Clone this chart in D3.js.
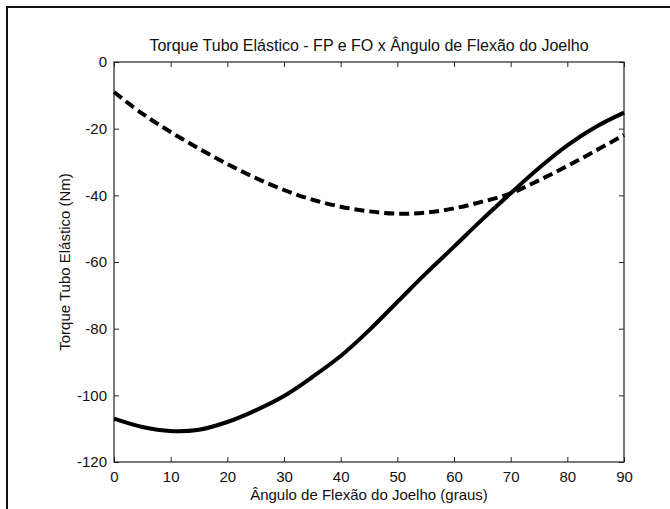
<!DOCTYPE html>
<html>
<head>
<meta charset="utf-8">
<script src="https://cdn.jsdelivr.net/npm/d3@7"></script>
<style>
  body { margin: 0; background: #fff; }
  text { font-family: "Liberation Sans", Arial, sans-serif; fill: #111; }
</style>
</head>
<body>
<div id="vis"></div>
<script>
const WIDTH = 670;
const HEIGHT = 509;

// angulo (graus)
const angulos = [0, 5, 10, 15, 20, 25, 30, 35, 40, 45, 50, 55, 60, 65, 70, 75, 80, 85, 90];
// curva continua
const torqueSolido = [-107, -109.5, -110.7, -110.3, -108, -104.5, -100.2, -94.5, -88.2, -80.5, -72, -63.5, -55.4, -47.2, -39.4, -31.8, -25, -19.5, -15.2];
// curva tracejada
const torqueTracejado = [-9, -15.5, -21, -26, -30.6, -34.8, -38.4, -41.3, -43.4, -44.8, -45.5, -45.2, -43.9, -41.9, -39.4, -35.5, -31.2, -26.6, -21.9];

const ticksX = [0, 10, 20, 30, 40, 50, 60, 70, 80, 90];
const ticksY = [0, -20, -40, -60, -80, -100, -120];

const margin = { top: 62, right: 46, bottom: 47, left: 114 };
const w = WIDTH - margin.left - margin.right;
const h = HEIGHT - margin.top - margin.bottom;

const svg = d3.select("#vis").append("svg").attr("width", WIDTH).attr("height", HEIGHT);

// moldura externa
svg.append("rect")
  .attr("x", 7).attr("y", 7)
  .attr("width", WIDTH + 20).attr("height", HEIGHT + 20)
  .attr("fill", "none").attr("stroke", "#111").attr("stroke-width", 2);

const g = svg.append("g").attr("transform", "translate(" + margin.left + "," + margin.top + ")");

const escalaX = d3.scaleLinear().domain([0, 90]).range([0, w]);
const escalaY = d3.scaleLinear().domain([-120, 0]).range([h, 0]);

const fmt = d => String(d);

function estiloEixo(sel) {
  sel.select(".domain").remove();
  sel.selectAll("line").attr("stroke", "#222");
  sel.selectAll("text").style("font-size", "15px").attr("fill", "#111");
}

// eixos (ticks para dentro, estilo MATLAB)
g.append("g").attr("transform", "translate(0," + h + ")")
  .call(d3.axisBottom(escalaX).tickValues(ticksX).tickFormat(fmt).tickSizeInner(-5).tickPadding(9))
  .call(estiloEixo);
g.append("g")
  .call(d3.axisTop(escalaX).tickValues(ticksX).tickSizeInner(-5).tickFormat(""))
  .call(estiloEixo);
g.append("g")
  .call(d3.axisLeft(escalaY).tickValues(ticksY).tickFormat(fmt).tickSizeInner(-5).tickPadding(7))
  .call(estiloEixo);
g.append("g").attr("transform", "translate(" + w + ",0)")
  .call(d3.axisRight(escalaY).tickValues(ticksY).tickSizeInner(-5).tickFormat(""))
  .call(estiloEixo);

g.append("rect")
  .attr("width", w).attr("height", h)
  .attr("fill", "none").attr("stroke", "#222").attr("stroke-width", 1.2);

const linha = d3.line()
  .x((d, i) => escalaX(angulos[i]))
  .y(d => escalaY(d))
  .curve(d3.curveCatmullRom);

g.append("path")
  .datum(torqueSolido)
  .attr("d", linha)
  .attr("fill", "none").attr("stroke", "#000").attr("stroke-width", 4);

g.append("path")
  .datum(torqueTracejado)
  .attr("d", linha)
  .attr("fill", "none").attr("stroke", "#000").attr("stroke-width", 4)
  .attr("stroke-dasharray", "10,5");

// textos
svg.append("text")
  .attr("x", margin.left + w / 2).attr("y", 51)
  .attr("text-anchor", "middle").style("font-size", "16px")
  .text("Torque Tubo Elástico - FP e FO x Ângulo de Flexão do Joelho");

svg.append("text")
  .attr("x", margin.left + w / 2).attr("y", 500)
  .attr("text-anchor", "middle").style("font-size", "15px")
  .text("Ângulo de Flexão do Joelho (graus)");

svg.append("text")
  .attr("transform", "translate(70," + (margin.top + h / 2) + ") rotate(-90)")
  .attr("text-anchor", "middle").style("font-size", "15px")
  .text("Torque Tubo Elástico (Nm)");
</script>
</body>
</html>
